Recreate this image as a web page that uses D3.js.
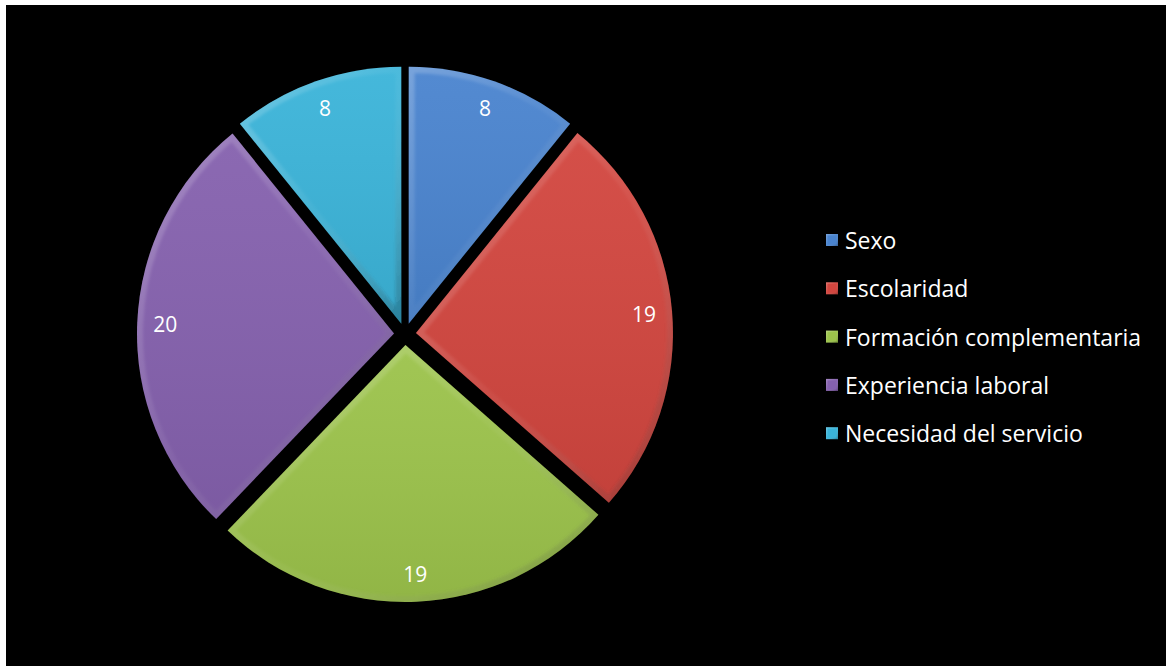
<!DOCTYPE html>
<html>
<head>
<meta charset="utf-8">
<script src="https://cdn.jsdelivr.net/npm/d3@7"></script>
<style>
  html, body { margin: 0; padding: 0; background: #ffffff; }
  svg { display: block; }
  text { font-family: "Open Sans", "Noto Sans", sans-serif; }
</style>
</head>
<body>
<svg id="chart" width="1166" height="666"></svg>
<script>
// Categories and counts
const categories = ["Sexo", "Escolaridad", "Formación complementaria", "Experiencia laboral", "Necesidad del servicio"];
const values = [8, 19, 19, 20, 8];
const colors = ["#4a84cf", "#d2463f", "#9cc34b", "#8561ae", "#3bb4d9"];

const W = 1166, H = 666;
const svg = d3.select("#chart");

// panel
svg.append("rect").attr("x", 6).attr("y", 5).attr("width", W - 6).attr("height", H - 5).attr("fill", "#000");

const cx = 405, cy = 334, R = 257, explode = 11, labelR = 229;

const pie = d3.pie().sort(null).value(d => d)(values);
const arc = d3.arc().innerRadius(0).outerRadius(R);
const labelArc = d3.arc().innerRadius(labelR).outerRadius(labelR);

const defs = svg.append("defs");

// bevel gradient: light on upper-left rim, darker on lower-right
const bevel = defs.append("linearGradient").attr("id", "bevel")
  .attr("x1", "0").attr("y1", "0").attr("x2", "1").attr("y2", "1");
bevel.append("stop").attr("offset", "0").attr("stop-color", "#fff").attr("stop-opacity", 0.22);
bevel.append("stop").attr("offset", "0.5").attr("stop-color", "#fff").attr("stop-opacity", 0.04);
bevel.append("stop").attr("offset", "1").attr("stop-color", "#000").attr("stop-opacity", 0.22);

// body shading: slightly lighter top, darker bottom
const shade = defs.append("linearGradient").attr("id", "shade")
  .attr("x1", "0").attr("y1", "0").attr("x2", "0").attr("y2", "1");
shade.append("stop").attr("offset", "0").attr("stop-color", "#fff").attr("stop-opacity", 0.05);
shade.append("stop").attr("offset", "1").attr("stop-color", "#000").attr("stop-opacity", 0.07);

const soft = defs.append("filter").attr("id", "soft").attr("x", "-10%").attr("y", "-10%").attr("width", "120%").attr("height", "120%");
soft.append("feGaussianBlur").attr("stdDeviation", 1.5);

const g = svg.append("g").attr("transform", `translate(${cx},${cy})`);

const slices = g.selectAll("g.slice").data(pie).join("g")
  .attr("class", "slice")
  .attr("transform", d => {
    const a = (d.startAngle + d.endAngle) / 2;
    return `translate(${Math.sin(a) * explode},${-Math.cos(a) * explode})`;
  });

slices.each(function(d, i) {
  const s = d3.select(this);
  const id = "clip" + i;
  defs.append("clipPath").attr("id", id).append("path").attr("d", arc(d));
  s.append("path").attr("d", arc(d)).attr("fill", colors[i]);
  s.append("path").attr("d", arc(d)).attr("fill", "url(#shade)");
  s.append("g").attr("clip-path", `url(#${id})`)
    .append("path").attr("d", arc(d))
    .attr("fill", "none")
    .attr("stroke", "url(#bevel)")
    .attr("stroke-width", 12)
    .attr("stroke-linejoin", "miter")
    .attr("filter", "url(#soft)");
  const c = labelArc.centroid(d);
  s.append("text")
    .attr("x", c[0]).attr("y", c[1])
    .attr("text-anchor", "middle")
    .attr("dominant-baseline", "central")
    .attr("fill", "#fff")
    .attr("font-size", 21)
    .text(values[i]);
});

// legend
const legend = svg.append("g").attr("transform", "translate(826,240)");
const rows = legend.selectAll("g").data(categories).join("g")
  .attr("transform", (d, i) => `translate(0,${i * 48.3})`);
rows.append("rect").attr("x", 0).attr("y", -6).attr("width", 12).attr("height", 12)
  .attr("fill", (d, i) => colors[i]);
rows.append("rect").attr("x", 0.75).attr("y", -5.25).attr("width", 10.5).attr("height", 10.5)
  .attr("fill", "none").attr("stroke", "url(#bevel)").attr("stroke-width", 1.5);
rows.append("text")
  .attr("x", 19).attr("y", 0)
  .attr("dominant-baseline", "central")
  .attr("fill", "#fff")
  .attr("font-size", 23)
  .text(d => d);
</script>
</body>
</html>
